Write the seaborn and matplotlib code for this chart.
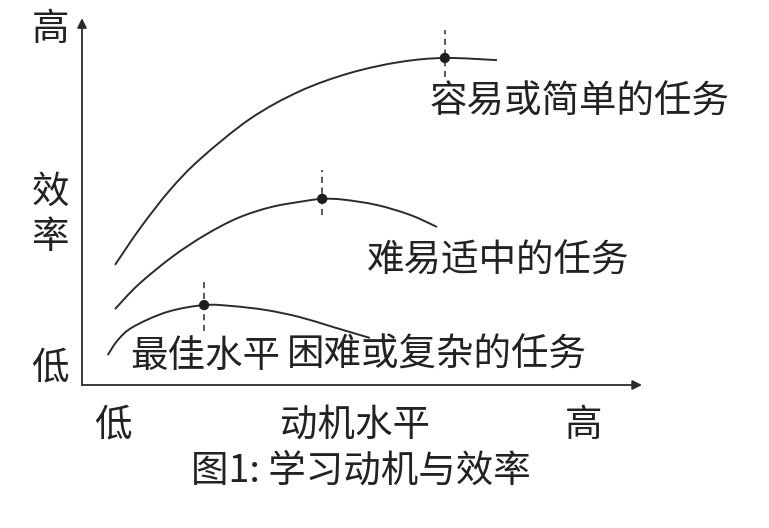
"""
plot.py - Yerkes-Dodson style chart: learning motivation vs. efficiency
"""

import matplotlib
matplotlib.use("Agg")
import matplotlib.pyplot as plt
from matplotlib.path import Path
from matplotlib.patches import PathPatch
import seaborn as sns

# motivation level (0-100) vs efficiency (0-100)
easy_x = [5.9, 10.4, 15.7, 21.1, 30.0, 38.9, 47.9, 56.8, 64.8, 74.1]
easy_y = [32.9, 43.0, 53.4, 61.9, 72.9, 80.5, 85.5, 88.5, 89.6, 89.0]

medium_x = [5.9, 10.0, 16.1, 22.0, 27.9, 33.9, 39.8, 42.9, 46.6, 52.7, 58.6, 63.4]
medium_y = [20.8, 27.4, 35.1, 41.1, 45.8, 48.8, 50.4, 51.0, 50.8, 49.3, 46.6, 43.3]

hard_x = [4.6, 6.4, 9.1, 15.2, 21.8, 27.0, 33.0, 38.9, 44.8, 51.4]
hard_y = [8.2, 12.3, 15.9, 20.0, 21.9, 21.6, 20.5, 18.6, 15.9, 12.9]

# optimum point of each curve
peak_x = [64.8, 42.9, 21.8]
peak_y = [89.6, 51.0, 21.9]
# extent of the dashed marker through each optimum
peak_lo = [84.4, 46.6, 14.8]
peak_hi = [97.3, 58.9, 29.3]

INK = "#2b2b2b"
FONT = ["Noto Sans CJK SC", "DejaVu Sans"]


def smooth_curve(xs, ys):
    """Catmull-Rom style bezier path running through the given points."""
    pts = list(zip(xs, ys))
    verts = [pts[0]]
    codes = [Path.MOVETO]
    for i in range(len(pts) - 1):
        p0 = pts[i - 1] if i > 0 else pts[i]
        p1, p2 = pts[i], pts[i + 1]
        p3 = pts[i + 2] if i + 2 < len(pts) else pts[i + 1]
        c1 = (p1[0] + (p2[0] - p0[0]) / 6, p1[1] + (p2[1] - p0[1]) / 6)
        c2 = (p2[0] - (p3[0] - p1[0]) / 6, p2[1] - (p3[1] - p1[1]) / 6)
        verts += [c1, c2, p2]
        codes += [Path.CURVE4] * 3
    return Path(verts, codes)


sns.set_style("white")
plt.rcParams['font.family'] = FONT

fig = plt.figure(figsize=(7.69, 5.28), dpi=100)
ax = fig.add_axes([0, 0, 1, 1])
ax.set_xlim(-14.64, 122.68)
ax.set_ylim(-39.18, 105.48)
ax.axis("off")

# axes with arrow heads
arrow = dict(arrowstyle="-|>", color=INK, lw=1.3, mutation_scale=14, shrinkA=0, shrinkB=0)
ax.annotate("", xy=(100, 0), xytext=(0, 0), arrowprops=arrow)
ax.annotate("", xy=(0, 100.5), xytext=(0, 0), arrowprops=arrow)

# the three curves
for xs, ys in [(easy_x, easy_y), (medium_x, medium_y), (hard_x, hard_y)]:
    ax.add_patch(PathPatch(smooth_curve(xs, ys), fill=False, edgecolor=INK, lw=1.4))

# dashed optimum markers and dots
for px, lo, hi in zip(peak_x, peak_lo, peak_hi):
    ax.plot([px, px], [lo, hi], color=INK, lw=1.1, ls=(0, (4, 3)))
sns.scatterplot(x=peak_x, y=peak_y, color="#1e1e1e", s=55, edgecolor="none", ax=ax, zorder=5)

txt = dict(fontsize=27, color="#222222", ha="center", va="center", family=FONT)

# axis labels
ax.text(-5.7, 97.3, "高", **txt)
ax.text(-5.7, 52.9, "效", **txt)
ax.text(-5.7, 40.5, "率", **txt)
ax.text(-5.7, 4.7, "低", **txt)
ax.text(5.5, -11.0, "低", **txt)
ax.text(48.75, -11.0, "动机水平", **txt)
ax.text(89.5, -11.0, "高", **txt)

# curve labels
ax.text(88.9, 77.5, "容易或简单的任务", **txt)
ax.text(74.3, 34.0, "难易适中的任务", **txt)
ax.text(22.0, 7.7, "最佳水平", **txt)
ax.text(63.4, 8.2, "困难或复杂的任务", **txt)

# caption
ax.text(49.8, -23.6, "图1: 学习动机与效率", **txt)

fig.savefig("out.png", dpi=100, facecolor="white")
